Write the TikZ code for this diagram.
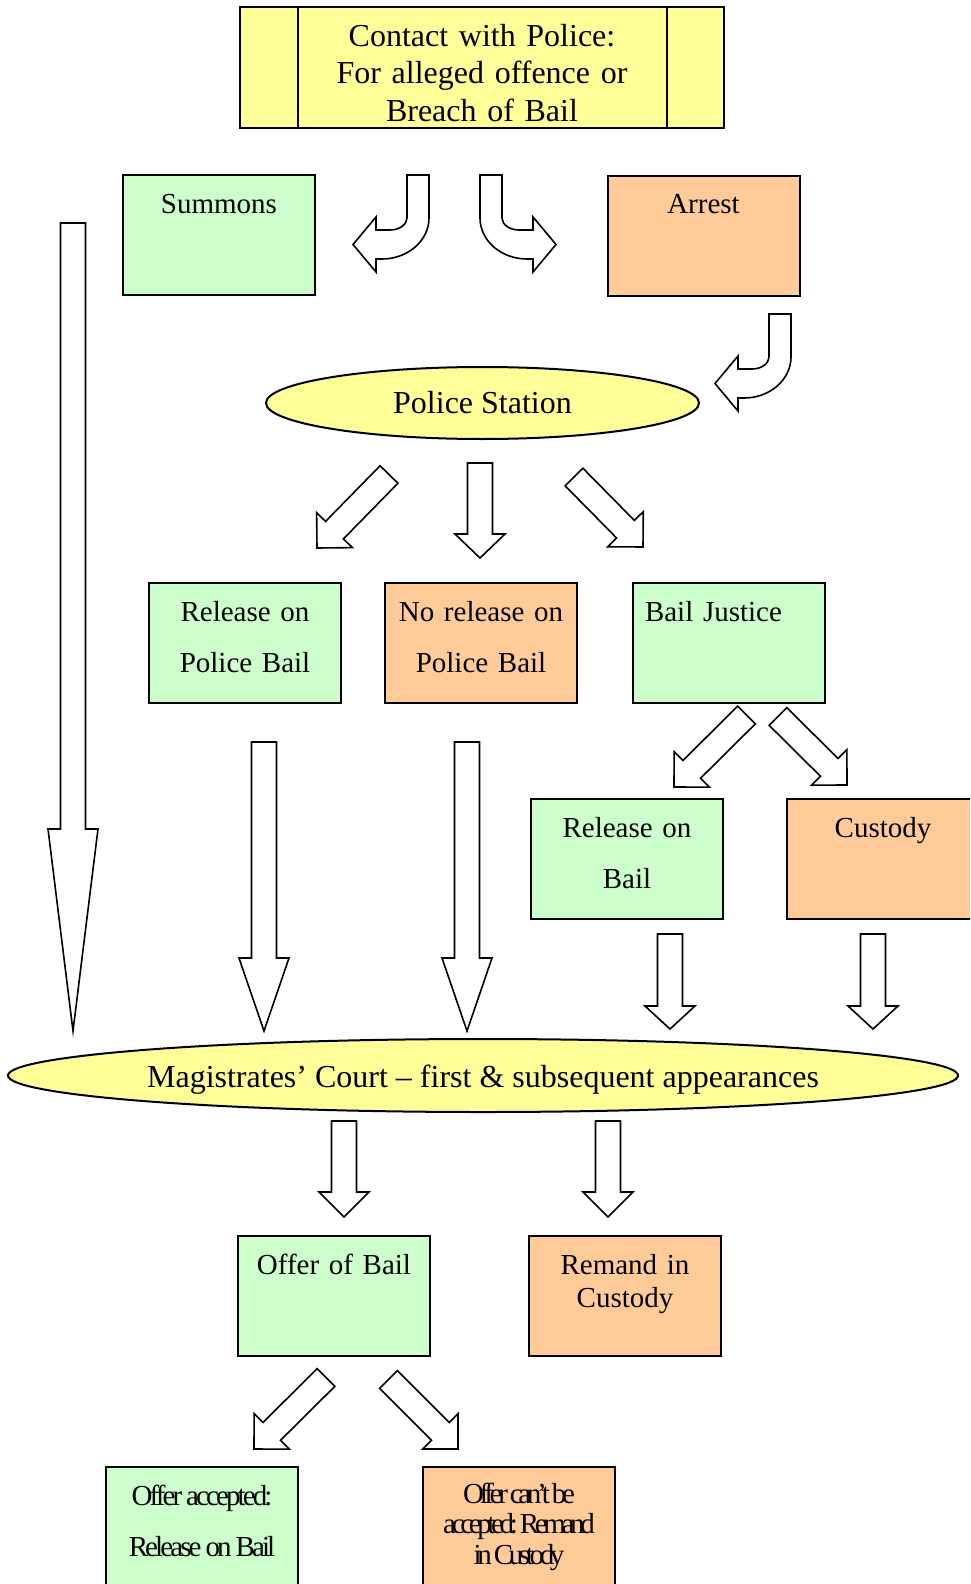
\documentclass[tikz,border=0pt]{standalone}
\usepackage{fontspec}
\setmainfont{Liberation Serif}
\newfontfamily\tightfont[LetterSpace=-10]{Liberation Serif}
\newfontfamily\tighterfont[LetterSpace=-15]{Liberation Serif}
\newcommand{\tightwords}[1]{\spaceskip=#1\relax\xspaceskip=#1\relax}
\usetikzlibrary{calc,shapes.geometric}
\definecolor{paleyellow}{RGB}{255,255,153}
\definecolor{palegreen}{RGB}{204,255,204}
\definecolor{paleorange}{RGB}{255,204,153}
\tikzset{
  blockline/.style={draw,fill=white,line width=0.8pt},
  blockarrow/.style={to path={
    ($(\tikztostart)!6.25pt!90:(\tikztotarget)$)
    -- ($(\tikztotarget)!#1!(\tikztostart)!6.25pt!90:(\tikztotarget)$)
    -- ($(\tikztotarget)!#1!(\tikztostart)!12.5pt!90:(\tikztotarget)$)
    -- (\tikztotarget)
    -- ($(\tikztotarget)!#1!(\tikztostart)!12.5pt!-90:(\tikztotarget)$)
    -- ($(\tikztotarget)!#1!(\tikztostart)!6.25pt!-90:(\tikztotarget)$)
    -- ($(\tikztostart)!6.25pt!-90:(\tikztotarget)$)
    -- cycle}},
  blockarrow/.default=12.5pt,
  pics/hook/.style={code={
    \path[blockline] (0,0) -- (22,0) -- (22,43)
      .. controls (22,65.5) and (1,84) .. (-25,84) -- (-31,84) -- (-31,97)
      -- (-54,69.5) -- (-31,42) -- (-31,55) -- (-17,55)
      .. controls (-7.7,55) and (0,49.6) .. (0,43) -- cycle;
  }}
}
\begin{document}
\begin{tikzpicture}[x=0.5pt,y=-0.5pt,
  box/.style={draw,line width=1pt,inner sep=0pt,text width=96pt,align=center,
    text height=19pt,text depth=41pt,font=\fontsize{14.5}{25.5}\selectfont},
  greenbox/.style={box,fill=palegreen},
  orangebox/.style={box,fill=paleorange},
  oval/.style={ellipse,draw,line width=1pt,fill=paleyellow,inner sep=0pt}]
\useasboundingbox (0,0) rectangle (970,1584);
\clip (0,0) rectangle (970,1584);

\node[draw,line width=1pt,fill=paleyellow,inner sep=0pt,text width=242pt,
  align=center,text height=20pt,text depth=40.5pt,
  font=\fontsize{16}{18.5}\selectfont] (contact) at (482,67.5)
  {Contact with Police:\\For alleged offence or\\Breach of Bail};
\draw[line width=1pt] ([xshift=29.5pt]contact.north west) -- ([xshift=29.5pt]contact.south west);
\draw[line width=1pt] ([xshift=-29pt]contact.north east) -- ([xshift=-29pt]contact.south east);

\node[greenbox] (summons) at (219,235) {Summons};
\node[orangebox] (arrest) at (703.5,235.5) {Arrest};
\node[oval,minimum width=216.5pt,minimum height=36pt,
  font=\fontsize{16}{18}\selectfont] (station) at (482.5,403) {Police Station};
\node[greenbox] (policebail) at (245,643) {Release on\\Police Bail};
\node[orangebox] (nobail) at (481,643) {No release on\\Police Bail};
\node[greenbox,text width=84pt,inner xsep=6pt,align=left] (justice) at (729,643) {Bail Justice};
\node[greenbox] (bail) at (627,859) {Release on\\Bail};
\node[orangebox] (custody) at (883,859) {Custody};
\node[oval,minimum width=474pt,minimum height=36.5pt,text height=15pt,text depth=3.3pt,
  font=\fontsize{16}{18}\selectfont] (court) at (483,1075.5)
  {Magistrates’ Court – first \& subsequent appearances};
\node[greenbox] (offer) at (334,1296) {Offer of Bail};
\node[orangebox,font=\fontsize{14.5}{16.5}\selectfont] (remand) at (625,1296) {Remand in\\Custody};
\node[greenbox,font=\tightfont\fontsize{14.5}{25.5}\selectfont] (accepted) at (202,1527)
  {\tightwords{2pt}Offer accepted:\\Release on Bail};
\node[orangebox,text height=18pt,text depth=42pt,
  font=\tighterfont\fontsize{14.5}{15.25}\selectfont] (refused) at (519,1527)
  {\tightwords{1pt}Offer can’t be\\accepted: Remand\\in Custody};

\pic (hookleft) at (407,175) {hook};
\pic[xscale=-1] (hookright) at (502,175) {hook};
\pic (hookarrest) at (769,314) {hook};

\coordinate (longtail) at (73,223);
\coordinate (longtip) at (73,1031);
\coordinate (stationleft) at (389,474.5);
\coordinate (policebailtop) at (317,548);
\coordinate (stationmid) at (480,463);
\coordinate (nobailtop) at (480,558);
\coordinate (stationright) at (574,477);
\coordinate (justicetop) at (643,547);
\coordinate (policebailout) at (264,742);
\coordinate (policebailin) at (264,1031);
\coordinate (nobailout) at (467,742);
\coordinate (nobailin) at (467,1031);
\coordinate (justiceleft) at (746.5,715);
\coordinate (bailtop) at (674,787);
\coordinate (justiceright) at (778,716.5);
\coordinate (custodytop) at (847,785);
\coordinate (bailout) at (670,934);
\coordinate (bailin) at (670,1029);
\coordinate (custodyout) at (873,934);
\coordinate (custodyin) at (873,1029);
\coordinate (courtleft) at (344,1121);
\coordinate (offertop) at (344,1217);
\coordinate (courtright) at (608,1121);
\coordinate (remandtop) at (608,1217);
\coordinate (offerleft) at (326,1377.5);
\coordinate (acceptedtop) at (254,1449);
\coordinate (offerright) at (388.5,1379.5);
\coordinate (refusedtop) at (458,1449);

\path[blockline] (longtail) to[blockarrow=101pt] (longtip);
\path[blockline] (stationleft) to[blockarrow] (policebailtop);
\path[blockline] (stationmid) to[blockarrow=12pt] (nobailtop);
\path[blockline] (stationright) to[blockarrow] (justicetop);
\path[blockline] (policebailout) to[blockarrow=36.5pt] (policebailin);
\path[blockline] (nobailout) to[blockarrow=36.5pt] (nobailin);
\path[blockline] (justiceleft) to[blockarrow] (bailtop);
\path[blockline] (justiceright) to[blockarrow] (custodytop);
\path[blockline] (bailout) to[blockarrow=11.5pt] (bailin);
\path[blockline] (custodyout) to[blockarrow=11.5pt] (custodyin);
\path[blockline] (courtleft) to[blockarrow] (offertop);
\path[blockline] (courtright) to[blockarrow] (remandtop);
\path[blockline] (offerleft) to[blockarrow] (acceptedtop);
\path[blockline] (offerright) to[blockarrow] (refusedtop);
\end{tikzpicture}
\end{document}
